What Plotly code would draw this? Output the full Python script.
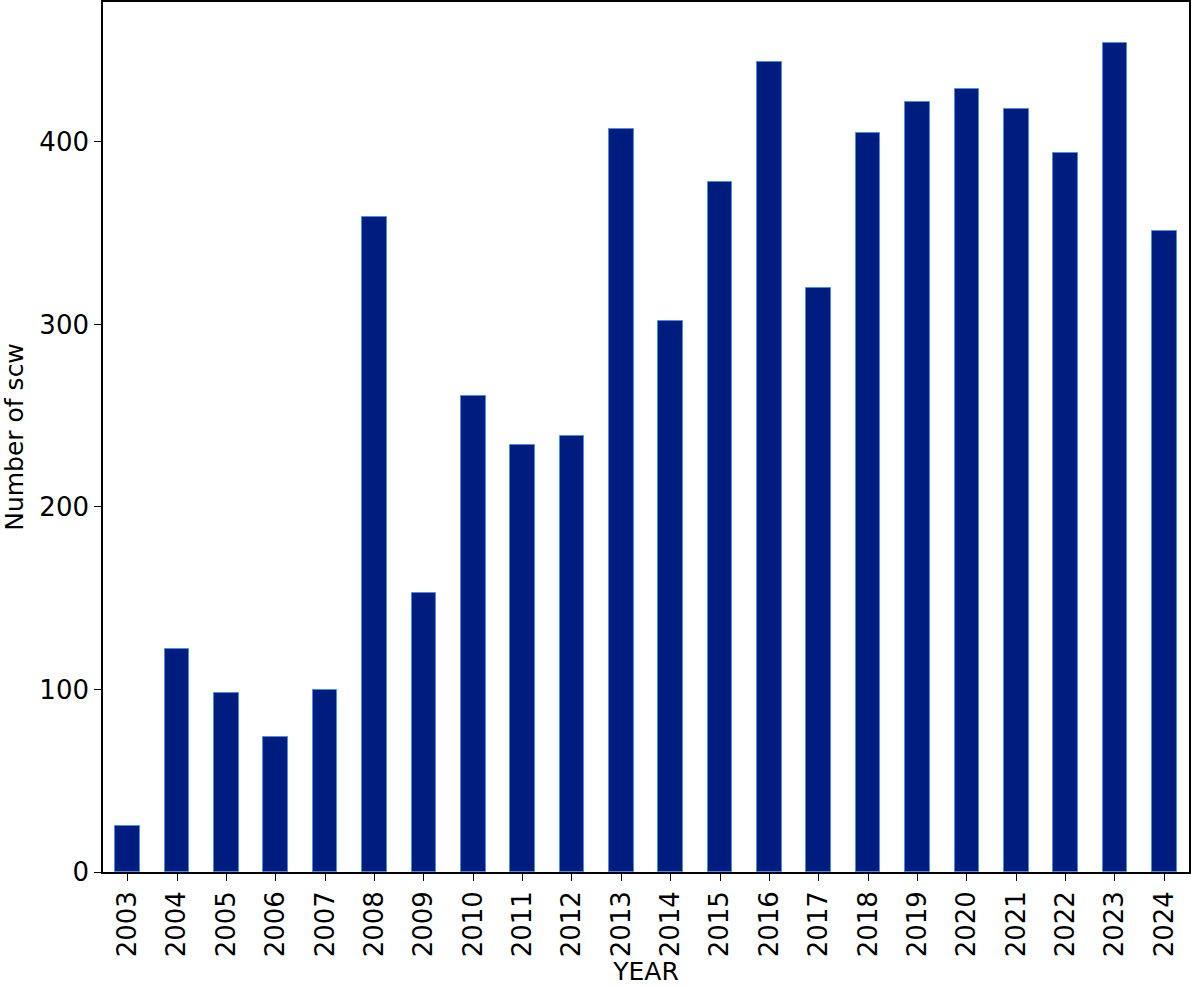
import plotly.graph_objects as go

years = [str(y) for y in range(2003, 2025)]
n_scw = [25, 122, 98, 74, 100, 359, 153, 261, 234, 239, 407,
         302, 378, 444, 320, 405, 422, 429, 418, 394, 454, 351]
y_ticks = [0, 100, 200, 300, 400]

fig = go.Figure()
fig.add_trace(go.Bar(
    x=years, y=n_scw, width=0.5,
    marker=dict(color="#001c7f", line=dict(color="#4a90e2", width=1)),
))

axis_style = dict(
    showline=True, linecolor="black", linewidth=1.6, mirror=True,
    ticks="outside", ticklen=7, tickwidth=1.4, tickcolor="black",
    showgrid=False, zeroline=False, automargin=False,
    tickfont=dict(family="DejaVu Sans", size=26, color="black"),
    title_font=dict(family="DejaVu Sans", size=25, color="black"),
)

fig.update_layout(
    width=1200, height=987,
    margin=dict(l=103, r=11, t=2, b=115),
    plot_bgcolor="white", paper_bgcolor="white",
    showlegend=False, bargap=0,
    xaxis=dict(axis_style, title=dict(text="YEAR", standoff=0),
               tickangle=-90, range=[-0.5, 21.5]),
    yaxis=dict(axis_style, title=dict(text="Number of scw", standoff=10),
               range=[0, 476.7], tickvals=y_ticks),
)

# drop the default page margin so the figure sits at the window's corner
fig.write_html("out.html", config={"displayModeBar": False},
               post_script="document.body.style.margin='0';")
